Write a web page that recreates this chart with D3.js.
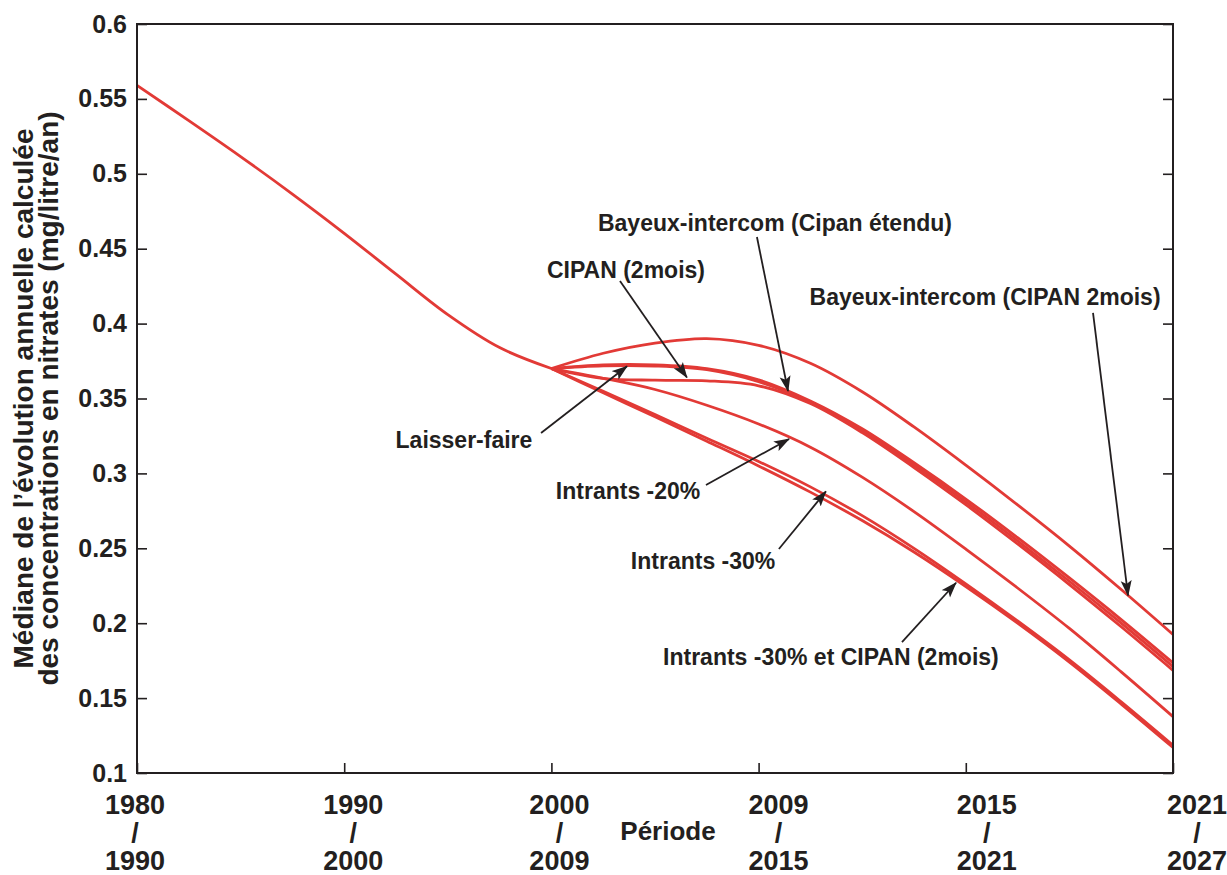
<!DOCTYPE html>
<html><head><meta charset="utf-8">
<script src="https://cdn.jsdelivr.net/npm/d3@7"></script>
<style>
body{margin:0;background:#fff;}
svg text{font-family:"Liberation Sans",Arial,Helvetica,sans-serif;font-weight:bold;fill:#231f20;}
</style></head><body>
<svg id="chart" width="1227" height="875"></svg>
<script>
// Periods (equally spaced on the axis)
const periodStart = ["1980", "1990", "2000", "2009", "2015", "2021"];
const periodEnd   = ["1990", "2000", "2009", "2015", "2021", "2027"];
const yTicks = [0.1, 0.15, 0.2, 0.25, 0.3, 0.35, 0.4, 0.45, 0.5, 0.55, 0.6];

// Common history, period index 0..2
const histSteps  = [0, 0.25, 0.5, 0.75, 1, 1.25, 1.5, 1.75, 2];
const histValues = [0.559, 0.5355, 0.5115, 0.4865, 0.4603, 0.4330, 0.4060, 0.3840, 0.370];

// Scenarios, period index 2..5
const scenSteps = [2, 2.25, 2.5, 2.75, 3, 3.25, 3.5, 3.75, 4, 4.25, 4.5, 4.75, 5];
const bayeuxCipan2   = [0.370, 0.3802, 0.3870, 0.3900, 0.3855, 0.3735, 0.3545, 0.3310, 0.3055, 0.2790, 0.2515, 0.2225, 0.1925];
const laisserFaire   = [0.370, 0.3725, 0.3725, 0.3700, 0.3625, 0.3484, 0.3298, 0.3071, 0.2829, 0.2571, 0.2302, 0.2024, 0.1735];
const bayeuxEtendu   = [0.370, 0.3718, 0.3717, 0.3692, 0.3612, 0.3475, 0.3285, 0.3055, 0.2810, 0.2550, 0.2280, 0.2000, 0.1710];
const cipan2mois     = [0.370, 0.3635, 0.3622, 0.3618, 0.3585, 0.3466, 0.3272, 0.3039, 0.2791, 0.2529, 0.2258, 0.1976, 0.1685];
const intrants20     = [0.370, 0.3635, 0.3560, 0.3455, 0.3330, 0.3175, 0.2975, 0.2745, 0.2495, 0.2235, 0.1965, 0.1675, 0.1376];
const intrants30     = [0.370, 0.3548, 0.3393, 0.3235, 0.3080, 0.2910, 0.2718, 0.2500, 0.2263, 0.2015, 0.1755, 0.1475, 0.1185];
const intrants30Cip  = [0.370, 0.3538, 0.3378, 0.3215, 0.3050, 0.2875, 0.2685, 0.2475, 0.2245, 0.2000, 0.1740, 0.1460, 0.1170];

const scenarios = [bayeuxCipan2, laisserFaire, bayeuxEtendu, cipan2mois, intrants20, intrants30, intrants30Cip];

// Callouts: label, label centre, arrow tail and arrow tip (period index, value)
const callouts = [
  {label: "Bayeux-intercom (Cipan étendu)", at: [3.079, 0.4672], from: [2.992, 0.4578], to: [3.142, 0.3550]},
  {label: "CIPAN (2mois)",                  at: [2.360, 0.4358], from: [2.331, 0.4284], to: [2.654, 0.3640]},
  {label: "Bayeux-intercom (CIPAN 2mois)",  at: [4.093, 0.4178], from: [4.614, 0.4071], to: [4.783, 0.2185]},
  {label: "Laisser-faire",                  at: [1.578, 0.3223], from: [1.950, 0.3270], to: [2.365, 0.3715]},
  {label: "Intrants -20%",                  at: [2.370, 0.2883], from: [2.746, 0.2923], to: [3.147, 0.3230]},
  {label: "Intrants -30%",                  at: [2.732, 0.2415], from: [3.098, 0.2495], to: [3.325, 0.2880]},
  {label: "Intrants -30% et CIPAN (2mois)", at: [3.349, 0.1774], from: [3.692, 0.1874], to: [3.953, 0.2270]}
];

const W = 1227, H = 875;
const margin = {left: 137, right: 54, top: 24, bottom: 102};
// horizontal nudge of each period label relative to its tick (px)
const periodLabelNudge = [-2, 9, 8, 20, 21, 24];

const svg = d3.select("#chart");

const x = d3.scaleLinear().domain([0, 5]).range([margin.left, W - margin.right]);
const y = d3.scaleLinear().domain([0.1, 0.6]).range([H - margin.bottom, margin.top]);

const red = "#e23a36";
const ink = "#231f20";
const lineWidth = 2.8;

// Curves
const line = d3.line()
  .x(d => x(d[0]))
  .y(d => y(d[1]))
  .curve(d3.curveCatmullRom.alpha(0.5));

const plot = svg.append("g");
plot.append("path")
  .datum(histSteps.map((s, i) => [s, histValues[i]]))
  .attr("d", line).attr("fill", "none").attr("stroke", red).attr("stroke-width", lineWidth);

scenarios.forEach(vals => {
  plot.append("path")
    .datum(scenSteps.map((s, i) => [s, vals[i]]))
    .attr("d", line).attr("fill", "none").attr("stroke", red).attr("stroke-width", lineWidth);
});

// Axes with inward ticks
const tickLen = 10;
const yAxisL = svg.append("g").attr("transform", `translate(${margin.left},0)`)
  .call(d3.axisLeft(y).tickValues(yTicks).tickSizeInner(-tickLen).tickSizeOuter(0).tickPadding(10)
        .tickFormat(d => String(d)));
yAxisL.select(".domain").remove();
yAxisL.selectAll("line").attr("stroke", ink).attr("stroke-width", 1.6);
yAxisL.selectAll("text").attr("font-size", 25).attr("fill", ink).style("font-family", null);

const yAxisR = svg.append("g").attr("transform", `translate(${W - margin.right},0)`)
  .call(d3.axisRight(y).tickValues(yTicks).tickSizeInner(-tickLen).tickSizeOuter(0).tickFormat(""));
yAxisR.select(".domain").remove();
yAxisR.selectAll("line").attr("stroke", ink).attr("stroke-width", 1.6);

const xAxis = svg.append("g").attr("transform", `translate(0,${H - margin.bottom})`)
  .call(d3.axisBottom(x).tickValues(d3.range(periodStart.length)).tickSizeInner(-tickLen).tickSizeOuter(0).tickFormat(""));
xAxis.select(".domain").remove();
xAxis.selectAll("line").attr("stroke", ink).attr("stroke-width", 1.6);

// Three-line period labels
const xl = svg.append("g").attr("font-size", 27).attr("text-anchor", "middle");
periodStart.forEach((p, i) => {
  const cx = x(i) + periodLabelNudge[i];
  const t = xl.append("text").attr("x", cx).attr("y", H - margin.bottom + 41);
  t.append("tspan").attr("x", cx).text(p);
  t.append("tspan").attr("x", cx).attr("dy", 28).text("/");
  t.append("tspan").attr("x", cx).attr("dy", 28).text(periodEnd[i]);
});

// Frame
svg.append("rect")
  .attr("x", margin.left).attr("y", margin.top)
  .attr("width", W - margin.left - margin.right).attr("height", H - margin.top - margin.bottom)
  .attr("fill", "none").attr("stroke", ink).attr("stroke-width", 2);

// Axis titles
svg.append("text").attr("x", (x(2) + x(3)) / 2 + 13).attr("y", H - margin.bottom + 67)
  .attr("text-anchor", "middle").attr("font-size", 26).text("Période");

const yt = svg.append("text")
  .attr("transform", `translate(33,${(y(0.1) + y(0.6)) / 2}) rotate(-90)`)
  .attr("text-anchor", "middle").attr("font-size", 28);
yt.append("tspan").attr("x", 0).attr("dy", 0).text("Médiane de l’évolution annuelle calculée");
yt.append("tspan").attr("x", 0).attr("dy", 25).text("des concentrations en nitrates (mg/litre/an)");

// Callouts
const defs = svg.append("defs");
defs.append("marker")
  .attr("id", "head").attr("markerUnits", "userSpaceOnUse")
  .attr("markerWidth", 16).attr("markerHeight", 12)
  .attr("refX", 15).attr("refY", 6).attr("orient", "auto")
  .append("path").attr("d", "M0,0.5 L16,6 L0,11.5 L3.5,6 Z").attr("fill", ink);

const ann = svg.append("g");
callouts.forEach(c => {
  ann.append("line")
    .attr("x1", x(c.from[0])).attr("y1", y(c.from[1]))
    .attr("x2", x(c.to[0])).attr("y2", y(c.to[1]))
    .attr("stroke", ink).attr("stroke-width", 1.8)
    .attr("marker-end", "url(#head)");
  ann.append("text")
    .attr("x", x(c.at[0])).attr("y", y(c.at[1]))
    .attr("dy", "0.36em").attr("text-anchor", "middle")
    .attr("font-size", 23).text(c.label);
});
</script>
</body></html>
